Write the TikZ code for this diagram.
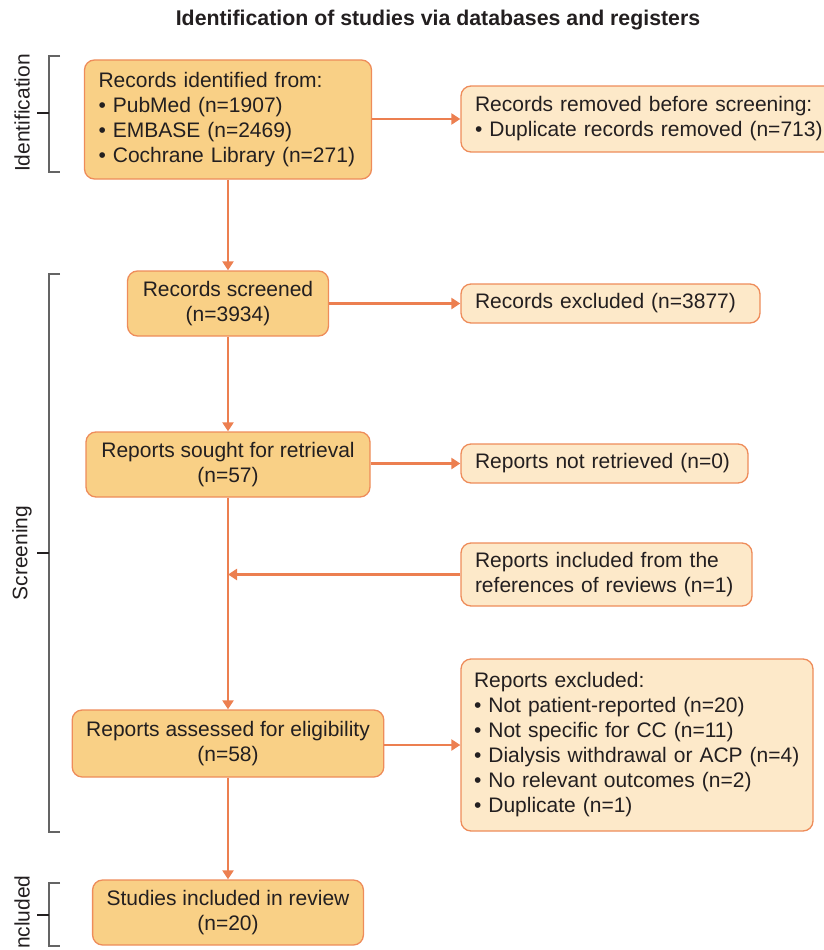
\documentclass[tikz,border=0pt]{standalone}
\usepackage{fontspec}
\setmainfont{Liberation Sans}
\usetikzlibrary{arrows.meta}
\definecolor{darkfill}{RGB}{249,208,134}
\definecolor{lightfill}{RGB}{253,233,201}
\definecolor{bordc}{RGB}{238,140,90}
\definecolor{arrc}{RGB}{236,127,80}
\definecolor{txtc}{RGB}{35,31,32}
\definecolor{brk}{RGB}{100,100,100}
\tikzset{
  box/.style={draw=bordc, line width=1.3pt, rounded corners=10pt, text=txtc,
    font=\fontsize{21}{25}\selectfont, inner xsep=14pt, inner ysep=2pt},
  dbox/.style={box, fill=darkfill, align=center},
  lbox/.style={box, fill=lightfill, align=left},
  arr/.style={draw=arrc, line width=2.8pt, -{Triangle[length=9pt,width=11pt]}},
  brack/.style={draw=brk, line width=1.8pt},
  tick/.style={draw=txtc, line width=1.8pt},
  sidelab/.style={rotate=90, text=txtc, font=\fontsize{21}{25}\selectfont},
}
\begin{document}
\begin{tikzpicture}[x=1pt,y=-1pt]
\useasboundingbox (0,0) rectangle (824,950);
\node[text=txtc, font=\bfseries\fontsize{21.3}{25}\selectfont] (title) at (438,20) {Identification of studies via databases and registers};

\node[dbox, text width=259pt, minimum height=119pt, align=left] (A) at (228,119.5)
 {Records identified from:\\ • PubMed (n=1907)\\ • EMBASE (n=2469)\\ • Cochrane Library (n=271)};
\node[lbox, text width=356pt, minimum height=66pt] (B) at (653,119)
 {Records removed before screening:\\ • Duplicate records removed (n=713)};
\node[dbox, minimum width=201pt, minimum height=65pt] (C) at (228,303.5)
 {Records screened\\ (n=3934)};
\node[lbox, text width=271pt, minimum height=39pt] (E) at (610.5,303.5)
 {Records excluded (n=3877)};
\node[dbox, minimum width=284pt, minimum height=65pt] (D) at (228,464.5)
 {Reports sought for retrieval\\ (n=57)};
\node[lbox, text width=259pt, minimum height=39pt] (F) at (604.5,463.5)
 {Reports not retrieved (n=0)};
\node[lbox, text width=263pt, minimum height=63pt] (G) at (606.5,574.5)
 {Reports included from the\\ references of reviews (n=1)};
\node[dbox, minimum width=311pt, minimum height=67pt] (H) at (228,743.5)
 {Reports assessed for eligibility\\ (n=58)};
\node[lbox, text width=326pt, inner xsep=13pt, minimum height=172pt] (I) at (637,745)
 {Reports excluded:\\ • Not patient-reported (n=20)\\ • Not specific for CC (n=11)\\ • Dialysis withdrawal or ACP (n=4)\\ • No relevant outcomes (n=2)\\ • Duplicate (n=1)};
\node[dbox, minimum width=269pt, minimum height=65pt] (J) at (228,912.5)
 {Studies included in review\\ (n=20)};

% connectors
\draw[arr] (A.south) -- (C.north);
\draw[arr] (C.south) -- (D.north);
\draw[arr] (D.south) -- (H.north);
\draw[arr] (H.south) -- (J.north);
\draw[arr] (A.east |- B.west) -- (B.west);
\draw[arr] (C.east) -- (E.west);
\draw[arr] (D.east |- F.west) -- (F.west);
\draw[arr] (H.east |- I.west) -- (I.west);
\coordinate (jn) at (D.south |- G.west);
\draw[arr] (G.west) -- (jn);

% brackets
\draw[brack] (60,56) -- (49,56) -- (49,172) -- (60,172);
\draw[tick] (37,113) -- (49,113);
\node[sidelab] (L1) at (22,113) {Identification};
\draw[brack] (60,274) -- (49,274) -- (49,832) -- (60,832);
\draw[tick] (37,553) -- (49,553);
\node[sidelab] (L2) at (22,553) {Screening};
\draw[brack] (60,883) -- (49,883) -- (49,946) -- (60,946);
\draw[tick] (37,915) -- (49,915);
\node[sidelab] (L3) at (22,915) {Included};
\end{tikzpicture}
\end{document}
